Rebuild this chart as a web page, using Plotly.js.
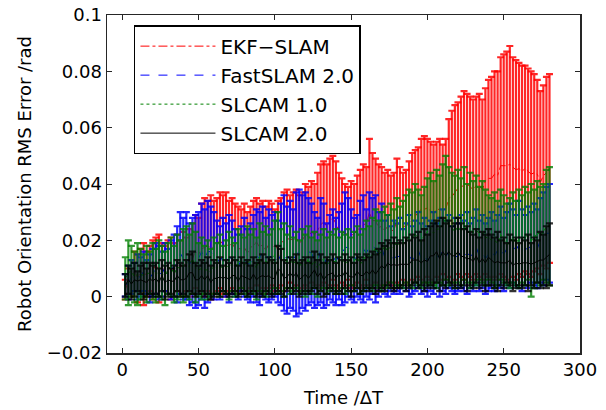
<!DOCTYPE html>
<html>
<head>
<meta charset="utf-8">
<script src="https://cdn.plot.ly/plotly-3.0.1.min.js"></script>
<style>html,body{margin:0;padding:0;background:#fff;}#chart{width:606px;height:410px;}</style>
</head>
<body>
<div id="chart"></div>
<script>
const time = [2,4,6,8,10,12,14,16,18,20,22,24,26,28,30,32,34,36,38,40,
42,44,46,48,50,52,54,56,58,60,62,64,66,68,70,72,74,76,78,80,
82,84,86,88,90,92,94,96,98,100,102,104,106,108,110,112,114,116,118,120,
122,124,126,128,130,132,134,136,138,140,142,144,146,148,150,152,154,156,158,160,
162,164,166,168,170,172,174,176,178,180,182,184,186,188,190,192,194,196,198,200,
202,204,206,208,210,212,214,216,218,220,222,224,226,228,230,232,234,236,238,240,
242,244,246,248,250,252,254,256,258,260,262,264,266,268,270,272,274,276,278,280];

const ekfMean = [0.0025,0.0055,0.0065,0.009,0.0065,0.009,0.008,0.008,0.010,0.0095,
0.011,0.010,0.0095,0.010,0.0105,0.010,0.0095,0.012,0.0105,0.0115,
0.0115,0.012,0.0135,0.016,0.015,0.017,0.0175,0.018,0.0175,0.0175,
0.0185,0.020,0.0185,0.0185,0.018,0.019,0.017,0.017,0.017,0.0175,
0.0155,0.0175,0.018,0.0195,0.0175,0.0185,0.0165,0.0185,0.0185,0.0165,
0.0185,0.0195,0.0195,0.0205,0.0205,0.020,0.021,0.019,0.020,0.022,
0.021,0.023,0.022,0.0235,0.0255,0.0265,0.025,0.0265,0.028,0.026,
0.0235,0.0235,0.022,0.0225,0.022,0.022,0.024,0.024,0.0255,0.026,
0.030,0.027,0.027,0.0245,0.025,0.0235,0.025,0.0235,0.0235,0.027,
0.025,0.025,0.025,0.026,0.0285,0.0285,0.030,0.031,0.031,0.0315,
0.0305,0.0295,0.031,0.031,0.031,0.031,0.035,0.0355,0.037,0.0385,
0.039,0.0395,0.040,0.039,0.038,0.0395,0.0395,0.038,0.041,0.042,
0.042,0.0435,0.043,0.0465,0.0465,0.0465,0.047,0.046,0.045,0.0455,
0.0445,0.0455,0.0445,0.0435,0.044,0.0435,0.0405,0.043,0.044,0.0455];
const ekfErr = [0.0035,0.0045,0.0065,0.007,0.0085,0.008,0.011,0.008,0.008,0.0105,
0.010,0.012,0.0095,0.008,0.0095,0.011,0.0095,0.010,0.0095,0.0115,
0.0095,0.012,0.0125,0.013,0.013,0.016,0.0175,0.016,0.0185,0.0165,
0.0165,0.017,0.0175,0.0185,0.016,0.016,0.016,0.015,0.014,0.0155,
0.0145,0.0145,0.016,0.0155,0.0155,0.0155,0.0155,0.0155,0.0145,0.0145,
0.0155,0.0155,0.0175,0.0175,0.0155,0.017,0.017,0.017,0.017,0.018,
0.018,0.018,0.018,0.0205,0.0215,0.0215,0.022,0.0225,0.022,0.022,
0.0205,0.0185,0.018,0.0165,0.019,0.018,0.019,0.021,0.0215,0.020,
0.026,0.024,0.022,0.0225,0.021,0.0205,0.020,0.0195,0.0205,0.022,
0.021,0.019,0.020,0.022,0.0225,0.0235,0.023,0.025,0.026,0.0245,
0.0245,0.0245,0.024,0.025,0.023,0.025,0.028,0.0305,0.031,0.0305,
0.032,0.0335,0.032,0.032,0.032,0.0315,0.0325,0.032,0.033,0.035,
0.036,0.0365,0.037,0.0385,0.0395,0.0405,0.042,0.039,0.039,0.0375,
0.0375,0.0365,0.0365,0.0365,0.035,0.0335,0.0325,0.032,0.034,0.0335];

const fastMean = [0.004,0.005,0.007,0.007,0.007,0.007,0.009,0.007,0.0065,0.0085,
0.010,0.0085,0.008,0.0105,0.009,0.0095,0.011,0.0115,0.0155,0.0135,
0.0145,0.0115,0.013,0.0125,0.0135,0.016,0.0135,0.016,0.016,0.0145,
0.014,0.012,0.015,0.013,0.0135,0.014,0.012,0.0105,0.0135,0.014,
0.0115,0.012,0.0145,0.0145,0.0135,0.016,0.0135,0.0145,0.014,0.015,
0.0125,0.015,0.0155,0.013,0.015,0.013,0.015,0.016,0.016,0.016,
0.016,0.0155,0.013,0.0125,0.0165,0.0145,0.0115,0.014,0.0145,0.0125,
0.0145,0.015,0.0175,0.0175,0.015,0.013,0.0145,0.0165,0.017,0.0155,
0.018,0.018,0.017,0.015,0.0175,0.014,0.0145,0.0135,0.014,0.014,
0.0145,0.0135,0.014,0.0145,0.013,0.0145,0.0165,0.0135,0.015,0.0125,
0.0145,0.0155,0.0145,0.014,0.0165,0.014,0.016,0.0135,0.0145,0.014,
0.016,0.0145,0.0155,0.0145,0.015,0.0175,0.0145,0.016,0.0135,0.015,
0.0165,0.0145,0.0165,0.0175,0.015,0.017,0.018,0.018,0.0165,0.0185,
0.0165,0.0165,0.0175,0.0175,0.0185,0.017,0.020,0.0205,0.0225,0.0225];
const fastErr = [0.004,0.006,0.006,0.005,0.008,0.007,0.007,0.006,0.0085,0.0085,
0.009,0.0095,0.008,0.0085,0.008,0.0105,0.011,0.0135,0.0145,0.0145,
0.0155,0.0145,0.015,0.0165,0.0165,0.017,0.0175,0.018,0.016,0.0155,
0.013,0.013,0.013,0.013,0.0155,0.013,0.012,0.0115,0.0115,0.014,
0.0125,0.014,0.0145,0.0165,0.0165,0.016,0.0145,0.0165,0.015,0.015,
0.0145,0.018,0.0205,0.019,0.019,0.018,0.022,0.022,0.020,0.021,
0.019,0.0175,0.017,0.0155,0.0185,0.0185,0.0145,0.015,0.0165,0.0155,
0.0155,0.018,0.0195,0.0175,0.016,0.015,0.0145,0.0175,0.019,0.0155,
0.019,0.017,0.019,0.015,0.0155,0.013,0.0145,0.0115,0.013,0.012,
0.0135,0.0105,0.012,0.0145,0.012,0.0125,0.0135,0.0125,0.013,0.0125,
0.0125,0.0145,0.0115,0.014,0.0145,0.013,0.013,0.0115,0.0135,0.012,
0.013,0.0125,0.0145,0.0115,0.013,0.0135,0.0125,0.013,0.0125,0.013,
0.0135,0.0125,0.0125,0.0145,0.013,0.013,0.015,0.013,0.0125,0.0155,
0.0145,0.0125,0.0145,0.0125,0.0145,0.014,0.015,0.0165,0.0165,0.0175];

const slcam1Mean = [0.0065,0.0085,0.009,0.007,0.008,0.008,0.0075,0.008,0.0085,0.009,
0.0075,0.010,0.0085,0.0065,0.010,0.0105,0.008,0.0105,0.010,0.011,
0.0125,0.0105,0.0135,0.0105,0.0095,0.010,0.0095,0.0095,0.0085,0.011,
0.010,0.011,0.010,0.0105,0.011,0.0115,0.0095,0.0125,0.0125,0.011,
0.0125,0.012,0.0125,0.010,0.014,0.012,0.0125,0.012,0.0125,0.015,
0.0155,0.013,0.013,0.0125,0.013,0.0115,0.013,0.0105,0.013,0.011,
0.0135,0.011,0.013,0.010,0.012,0.0135,0.011,0.0125,0.0125,0.0125,
0.0115,0.013,0.0115,0.013,0.0125,0.0125,0.014,0.0115,0.013,0.015,
0.014,0.015,0.0175,0.015,0.016,0.018,0.016,0.019,0.017,0.0195,
0.018,0.0185,0.0205,0.021,0.020,0.0225,0.021,0.0195,0.022,0.023,
0.0245,0.0225,0.024,0.024,0.0255,0.028,0.025,0.0245,0.023,0.025,
0.023,0.026,0.0225,0.0235,0.023,0.0235,0.0225,0.023,0.021,0.021,
0.020,0.020,0.019,0.022,0.0205,0.0185,0.019,0.021,0.019,0.0205,
0.0205,0.0215,0.0215,0.020,0.0205,0.023,0.0215,0.023,0.025,0.025];
const slcam1Err = [0.0075,0.0115,0.009,0.009,0.011,0.009,0.0075,0.010,0.0075,0.010,
0.0095,0.010,0.0095,0.0095,0.009,0.0105,0.010,0.0115,0.010,0.013,
0.0125,0.0115,0.0125,0.0125,0.0095,0.011,0.0085,0.0105,0.0085,0.010,
0.009,0.011,0.008,0.0095,0.012,0.0095,0.0095,0.0115,0.0095,0.010,
0.0125,0.010,0.0115,0.011,0.012,0.011,0.0125,0.010,0.0115,0.012,
0.0145,0.011,0.013,0.0095,0.012,0.0095,0.010,0.0095,0.011,0.011,
0.0115,0.010,0.010,0.010,0.010,0.0105,0.010,0.0105,0.0095,0.0115,
0.0095,0.010,0.0105,0.011,0.0085,0.0105,0.011,0.0105,0.011,0.012,
0.011,0.013,0.0135,0.012,0.014,0.014,0.013,0.014,0.014,0.0155,
0.014,0.0155,0.0155,0.017,0.017,0.0175,0.017,0.0165,0.017,0.019,
0.0195,0.0185,0.021,0.019,0.0215,0.022,0.021,0.0195,0.020,0.020,
0.019,0.020,0.0175,0.0205,0.018,0.0195,0.0165,0.018,0.017,0.015,
0.015,0.017,0.015,0.016,0.0155,0.0145,0.016,0.016,0.015,0.0175,
0.0155,0.0175,0.0155,0.020,0.0175,0.018,0.0175,0.017,0.020,0.021];

const slcam2Mean = [0.004,0.006,0.0045,0.006,0.0055,0.006,0.0055,0.005,0.0065,0.0055,
0.0065,0.005,0.0075,0.005,0.006,0.0055,0.0055,0.0075,0.006,0.006,
0.0065,0.0085,0.0085,0.006,0.006,0.0075,0.006,0.0075,0.005,0.0065,
0.0065,0.007,0.0065,0.007,0.006,0.0075,0.0075,0.0055,0.0075,0.007,
0.0065,0.006,0.008,0.006,0.007,0.0075,0.007,0.0075,0.0065,0.0065,
0.010,0.009,0.0065,0.007,0.0085,0.007,0.0085,0.006,0.007,0.008,
0.0065,0.008,0.0095,0.007,0.0085,0.006,0.0075,0.008,0.0085,0.0065,
0.008,0.007,0.009,0.0075,0.007,0.007,0.009,0.0075,0.0075,0.009,
0.008,0.0095,0.008,0.0095,0.011,0.010,0.012,0.011,0.0115,0.011,
0.0115,0.0115,0.0115,0.0115,0.013,0.013,0.013,0.012,0.013,0.0125,
0.0145,0.0145,0.016,0.0135,0.016,0.0145,0.016,0.0145,0.0145,0.016,
0.0145,0.014,0.0135,0.0135,0.0125,0.0145,0.012,0.0135,0.012,0.014,
0.013,0.012,0.0125,0.012,0.012,0.012,0.013,0.011,0.012,0.0115,
0.012,0.012,0.012,0.0115,0.012,0.0125,0.013,0.013,0.014,0.015];
const slcam2Err = [0.004,0.005,0.0055,0.006,0.0035,0.005,0.0065,0.005,0.0055,0.0055,
0.0055,0.005,0.0055,0.006,0.006,0.0045,0.0055,0.0055,0.006,0.005,
0.0065,0.0065,0.0075,0.006,0.005,0.0055,0.006,0.0065,0.006,0.0065,
0.0055,0.007,0.0045,0.006,0.006,0.0065,0.0055,0.0055,0.0065,0.005,
0.0065,0.005,0.006,0.006,0.006,0.0075,0.005,0.0065,0.0065,0.0055,
0.008,0.008,0.0065,0.005,0.0055,0.006,0.0065,0.006,0.006,0.006,
0.0055,0.006,0.0065,0.006,0.0065,0.006,0.0065,0.005,0.0065,0.0055,
0.006,0.006,0.006,0.0055,0.007,0.005,0.006,0.0065,0.0055,0.006,
0.006,0.0065,0.007,0.0075,0.008,0.008,0.008,0.008,0.0095,0.008,
0.0085,0.0075,0.0095,0.0085,0.009,0.008,0.010,0.008,0.011,0.0095,
0.0105,0.0115,0.011,0.0115,0.012,0.0115,0.011,0.0105,0.0115,0.012,
0.0115,0.010,0.0115,0.0095,0.0095,0.0095,0.009,0.0095,0.010,0.010,
0.009,0.009,0.0105,0.008,0.009,0.007,0.009,0.009,0.009,0.0075,
0.009,0.008,0.010,0.0075,0.009,0.0075,0.010,0.009,0.011,0.011];

const seriesNames = ['EKF\u2212SLAM','FastSLAM 2.0','SLCAM 1.0','SLCAM 2.0'];
const xTicks = [0,50,100,150,200,250,300];
const yTicks = [-0.02,0,0.02,0.04,0.06,0.08,0.1];
const yTickText = ['\u22120.02','0','0.02','0.04','0.06','0.08','0.1'];

const means = [ekfMean, fastMean, slcam1Mean, slcam2Mean];
const errs = [ekfErr, fastErr, slcam1Err, slcam2Err];
const lineColors = ['rgb(255,0,0)','rgb(0,0,255)','rgb(0,128,0)','rgb(0,0,0)'];
const barColors = ['rgba(255,0,0,0.85)','rgba(0,0,255,0.85)','rgba(0,128,0,0.8)','rgba(0,0,0,0.8)'];
const dashes = ['dashdot','dash','dot','solid'];

const traces = means.map((m, i) => ({
  type: 'scatter',
  mode: 'lines',
  x: time,
  y: m,
  name: seriesNames[i],
  legendgroup: 'g' + i,
  line: {color: lineColors[i], width: 1, dash: dashes[i]},
  error_y: {type: 'data', array: errs[i], symmetric: true, visible: true,
            color: barColors[i], thickness: 2.2, width: 3.5},
  hoverinfo: 'skip'
}));

const axisCommon = {
  showgrid: false, zeroline: false, showline: true, linecolor: '#262626', linewidth: 1.5,
  mirror: 'ticks', ticks: 'inside', ticklen: 5, tickwidth: 1, tickcolor: '#262626',
  tickfont: {family: 'DejaVu Sans', size: 18, color: '#000'}
};

const layout = {
  width: 606, height: 410,
  margin: {l: 107, r: 26, t: 15, b: 57},
  paper_bgcolor: '#fff', plot_bgcolor: '#fff',
  font: {family: 'DejaVu Sans', size: 18, color: '#000'},
  showlegend: true,
  legend: {x: 0.057, y: 0.97, xanchor: 'left', yanchor: 'top', bgcolor: '#fff',
           bordercolor: '#000', borderwidth: 1.5, font: {family: 'DejaVu Sans', size: 20, color: '#000'},
           itemwidth: 75, traceorder: 'grouped', tracegroupgap: 0},
  xaxis: Object.assign({}, axisCommon, {range: [-10, 300], tickvals: xTicks,
           title: {text: 'Time /\u0394T', font: {family: 'DejaVu Sans', size: 18}, standoff: 12}}),
  yaxis: Object.assign({}, axisCommon, {range: [-0.02, 0.1], tickvals: yTicks, ticktext: yTickText,
           title: {text: 'Robot Orientation RMS Error /rad', font: {family: 'DejaVu Sans', size: 18}, standoff: 10}})
};

Plotly.newPlot('chart', traces, layout, {displayModeBar: false, staticPlot: true});
</script>
</body>
</html>
